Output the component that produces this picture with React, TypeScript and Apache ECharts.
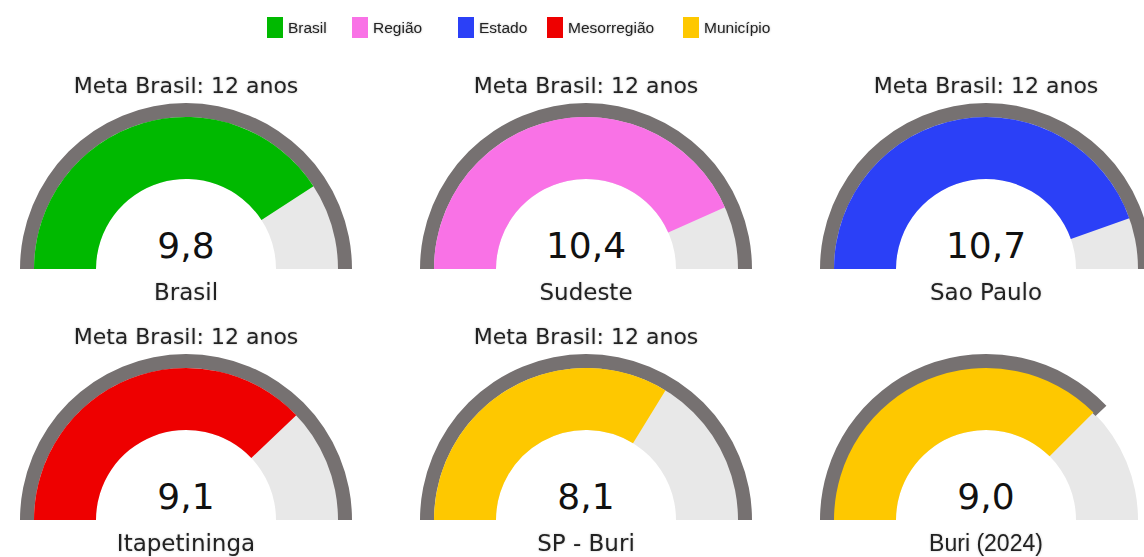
import React, { useEffect, useRef } from "react";
import * as echarts from "echarts";

// ---- data ----
const categories = ["Brasil", "Sudeste", "Sao Paulo", "Itapetininga", "SP - Buri", "Buri (2024)"];
const groups = ["Brasil", "Região", "Estado", "Mesorregião", "Município", "Município"];
const values = [9.8, 10.4, 10.7, 9.1, 8.1, 9.0];
const ringValues = [12, 12, 12, 12, 12, 9.1];
const metaLabels = [
  "Meta Brasil: 12 anos",
  "Meta Brasil: 12 anos",
  "Meta Brasil: 12 anos",
  "Meta Brasil: 12 anos",
  "Meta Brasil: 12 anos",
  "",
];
const legendNames = ["Brasil", "Região", "Estado", "Mesorregião", "Município"];
const legendColors = ["#00b900", "#f972e6", "#2b40f7", "#ee0000", "#fec800"];
const GAUGE_MIN = 0;
const GAUGE_MAX = 12;

// ---- layout ----
const COLS = [186, 586, 986];
const ROWS = [269, 520];
const LEGEND_LEFT = [262, 347, 453, 542, 678];
const FONT = "DejaVu Sans";

function colorOf(group: string) {
  return legendColors[legendNames.indexOf(group)];
}

export default function App() {
  const ref = useRef<HTMLDivElement>(null);

  useEffect(() => {
    if (!ref.current) return;
    const chart = echarts.init(ref.current, null, { renderer: "svg" });

    const series: any[] = [];
    categories.forEach((cat, i) => {
      const center = [COLS[i % 3], ROWS[Math.floor(i / 3)]];
      const base = {
        type: "gauge",
        center,
        startAngle: 180,
        endAngle: 0,
        min: GAUGE_MIN,
        max: GAUGE_MAX,
        splitNumber: 1,
        pointer: { show: false },
        anchor: { show: false },
        axisTick: { show: false },
        splitLine: { show: false },
        axisLabel: { show: false },
        silent: true,
      };
      // grey outer ring (meta)
      series.push({
        ...base,
        name: "meta" + i,
        radius: 166,
        axisLine: { show: true, lineStyle: { width: 15, color: [[1, "rgba(0,0,0,0)"]] } },
        progress: { show: true, width: 15, itemStyle: { color: "#767171" } },
        title: {
          show: true,
          offsetCenter: [0, -184],
          fontSize: 22,
          fontFamily: FONT,
          color: "#222",
          textShadowColor: "rgba(0,0,0,0.25)",
          textShadowBlur: 2,
        },
        detail: { show: false },
        data: [{ value: ringValues[i], name: metaLabels[i] }],
      });
      // main band
      series.push({
        ...base,
        name: groups[i],
        radius: 152,
        axisLine: { show: true, lineStyle: { width: 62, color: [[1, "#e8e8e8"]] } },
        progress: { show: true, width: 62, itemStyle: { color: colorOf(groups[i]) } },
        title: {
          show: true,
          offsetCenter: [0, 23],
          fontSize: 23,
          fontFamily: i === 5 ? "Liberation Sans" : FONT,
          color: "#222",
          textShadowColor: "rgba(0,0,0,0.2)",
          textShadowBlur: 2,
        },
        detail: {
          show: true,
          offsetCenter: [0, -24],
          fontSize: 36,
          fontWeight: "normal",
          fontFamily: FONT,
          color: "#111",
          formatter: (v: number) => v.toFixed(1).replace(".", ","),
        },
        data: [{ value: values[i], name: cat }],
      });
    });

    const legend = legendNames.map((n, k) => ({
      data: [{ name: n, itemStyle: { color: legendColors[k] } }],
      left: LEGEND_LEFT[k],
      top: 12,
      icon: "rect",
      itemWidth: 16,
      itemHeight: 21,
      itemGap: 0,
      selectedMode: false,
      textStyle: {
        fontFamily: "Liberation Sans",
        fontSize: 15.5,
        color: "#222",
        textShadowColor: "rgba(0,0,0,0.25)",
        textShadowBlur: 2,
      },
    }));

    chart.setOption({
      animation: false,
      backgroundColor: "#ffffff",
      legend,
      series,
    });
    return () => chart.dispose();
  }, []);

  return (
    <div
      ref={ref}
      style={{ position: "fixed", left: 0, top: 0, width: 1144, height: 557 }}
    />
  );
}
